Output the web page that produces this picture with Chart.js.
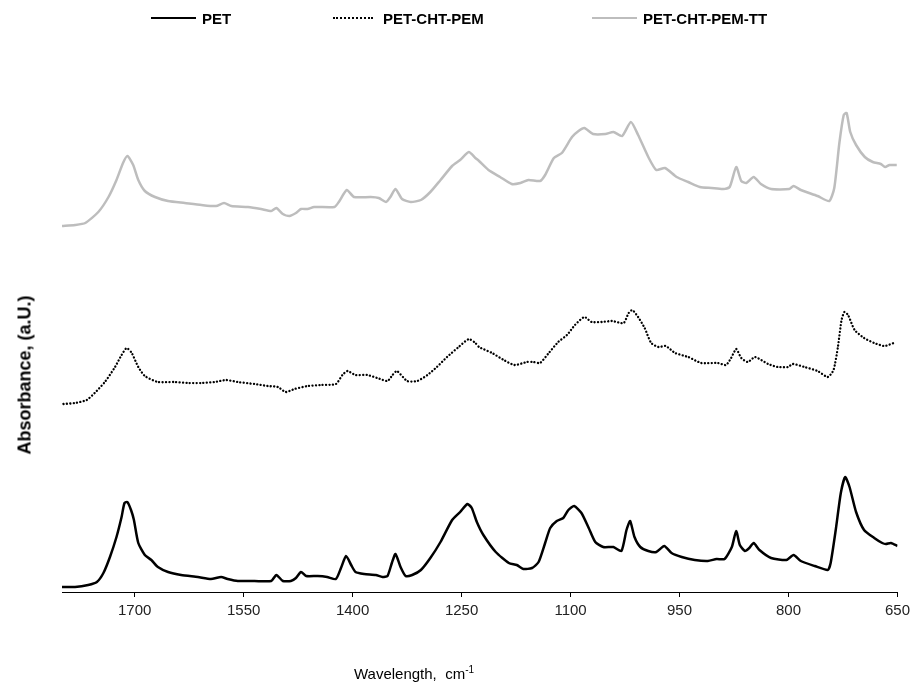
<!DOCTYPE html>
<html>
<head>
<meta charset="utf-8">
<script src="https://cdn.jsdelivr.net/npm/chart.js@4.4.1/dist/chart.umd.min.js"></script>
<style>
  html, body { margin: 0; padding: 0; background: #fff; }
  #wrap { position: relative; width: 915px; height: 688px; font-family: "Liberation Sans", Arial, sans-serif; }
  #spectra { position: absolute; left: 0; top: 0; }
  .legend-item { position: absolute; top: 9px; height: 18px; display: flex; align-items: center; font-weight: bold; font-size: 15px; color: #000; white-space: nowrap; }
  .legend-item .swatch { display: inline-block; width: 45px; margin-right: 6px; }
  .axis-title { position: absolute; color: #000; white-space: nowrap; font-size: 15px; }
  #y-title { left: 25px; top: 375px; font-weight: bold; font-size: 18px; transform: translate(-50%, -50%) rotate(-90deg); }
  #x-title { left: 414px; top: 673px; transform: translate(-50%, -50%); }
  #x-title sup { font-size: 10px; }
</style>
</head>
<body>
<div id="wrap">
  <canvas id="spectra" width="915" height="688"></canvas>
  <div class="legend-item" style="left:151px"><span class="swatch" style="border-top:2.5px solid #000"></span>PET</div>
  <div class="legend-item" style="left:333px"><span class="swatch" style="width:40px;margin-right:10px;border-top:2px dotted #000"></span>PET-CHT-PEM</div>
  <div class="legend-item" style="left:592px"><span class="swatch" style="border-top:2.5px solid #bdbdbd"></span>PET-CHT-PEM-TT</div>
  <div class="axis-title" id="y-title">Absorbance, (a.U.)</div>
  <div class="axis-title" id="x-title">Wavelength,&nbsp; cm<sup>-1</sup></div>
</div>
<script>
// FTIR spectra, curves stacked with an offset (arbitrary absorbance units)
const tickValues = [1700, 1550, 1400, 1250, 1100, 950, 800, 650];

const petWn = [1800,1782,1764,1752,1743,1734,1725,1718,1714,1710,1705,1701,1695,1686,1677,1668,1654,1636,1613,1595,
  1581,1572,1558,1535,1512,1505,1496,1485,1478,1471,1464,1448,1435,1423,1416,1409,1402,1396,1384,1368,
  1359,1352,1346,1341,1334,1327,1318,1306,1293,1279,1263,1252,1242,1236,1229,1220,1203,1185,1174,1165,
  1153,1144,1135,1128,1119,1110,1103,1095,1085,1075,1066,1055,1041,1030,1023,1018,1012,1004,993,982,
  971,961,947,929,911,899,888,878,872,867,860,854,848,840,824,803,793,783,764,746,
  742,735,728,722,716,707,696,682,671,666,659,650];
const petAbs = [0.05,0.05,0.07,0.10,0.19,0.35,0.55,0.75,0.89,0.90,0.82,0.72,0.49,0.37,0.32,0.25,0.20,0.17,0.15,0.13,
  0.15,0.13,0.11,0.11,0.11,0.17,0.11,0.11,0.14,0.20,0.16,0.16,0.15,0.13,0.24,0.36,0.27,0.20,0.18,0.17,
  0.15,0.16,0.29,0.38,0.25,0.16,0.17,0.22,0.34,0.50,0.72,0.80,0.88,0.84,0.70,0.57,0.40,0.29,0.27,0.23,
  0.24,0.30,0.49,0.64,0.71,0.74,0.82,0.86,0.79,0.64,0.50,0.45,0.45,0.41,0.62,0.71,0.55,0.45,0.41,0.40,
  0.46,0.39,0.35,0.32,0.31,0.33,0.33,0.45,0.61,0.47,0.41,0.44,0.49,0.42,0.34,0.32,0.37,0.31,0.26,0.22,
  0.29,0.62,0.99,1.15,1.05,0.80,0.62,0.54,0.49,0.48,0.49,0.46];

const pemWn = [1798,1782,1766,1755,1741,1727,1718,1711,1704,1695,1686,1668,1645,1627,1608,1590,1574,1558,1535,1517,
  1503,1492,1480,1462,1444,1423,1414,1407,1396,1380,1366,1352,1345,1339,1325,1311,1297,1284,1270,1254,
  1240,1231,1226,1208,1192,1177,1160,1151,1142,1130,1117,1105,1094,1081,1071,1057,1043,1027,1020,1015,
  1007,998,989,979,969,956,938,920,897,886,879,872,865,856,846,828,815,801,794,778,
  760,746,738,732,727,723,718,709,696,682,668,655];
const pemAbs = [1.88,1.89,1.92,1.99,2.10,2.25,2.37,2.44,2.39,2.25,2.16,2.10,2.10,2.09,2.09,2.10,2.12,2.10,2.08,2.06,
  2.05,2.00,2.03,2.06,2.07,2.08,2.17,2.21,2.17,2.17,2.14,2.11,2.17,2.21,2.11,2.11,2.17,2.25,2.35,2.45,
  2.53,2.49,2.45,2.39,2.32,2.27,2.30,2.30,2.29,2.39,2.50,2.57,2.67,2.75,2.70,2.70,2.71,2.69,2.79,2.82,
  2.75,2.64,2.49,2.45,2.46,2.39,2.35,2.29,2.29,2.27,2.34,2.43,2.34,2.30,2.35,2.28,2.25,2.25,2.28,2.25,
  2.21,2.15,2.22,2.45,2.72,2.80,2.77,2.62,2.54,2.49,2.46,2.49];

const ttWn = [1800,1782,1768,1750,1736,1725,1716,1710,1702,1695,1686,1672,1654,1631,1608,1588,1577,1567,1544,1526,
  1512,1505,1496,1487,1478,1471,1462,1453,1425,1419,1408,1398,1375,1364,1354,1348,1341,1332,1320,1306,
  1293,1279,1263,1252,1240,1231,1226,1213,1197,1181,1169,1158,1142,1135,1123,1112,1098,1089,1081,1069,
  1052,1041,1029,1017,1007,993,982,970,954,938,922,906,890,881,872,865,858,848,838,824,
  799,793,783,760,744,737,730,724,720,715,707,695,684,673,667,661,651];
const ttAbs = [3.66,3.67,3.69,3.80,3.95,4.12,4.29,4.36,4.27,4.12,4.01,3.95,3.91,3.89,3.87,3.86,3.89,3.86,3.85,3.83,
  3.81,3.84,3.78,3.76,3.79,3.83,3.83,3.85,3.85,3.90,4.02,3.95,3.95,3.94,3.90,3.95,4.03,3.93,3.90,3.92,
  4.00,4.12,4.26,4.32,4.40,4.34,4.31,4.22,4.15,4.08,4.09,4.12,4.11,4.17,4.34,4.39,4.55,4.61,4.64,4.58,
  4.58,4.60,4.56,4.70,4.57,4.35,4.22,4.24,4.15,4.10,4.05,4.04,4.03,4.05,4.25,4.11,4.09,4.15,4.08,4.03,
  4.03,4.06,4.02,3.96,3.91,4.04,4.49,4.77,4.79,4.60,4.47,4.35,4.30,4.28,4.25,4.27,4.27];

function toPoints(xs, ys) {
  return xs.map((x, i) => ({ x: x, y: ys[i] }));
}

const ctx = document.getElementById('spectra').getContext('2d');
const spectraChart = new Chart(ctx, {
  type: 'line',
  data: {
    datasets: [
      {
        label: 'PET',
        data: toPoints(petWn, petAbs),
        borderColor: '#000',
        borderWidth: 2.5,
        pointRadius: 0,
        tension: 0.2
      },
      {
        label: 'PET-CHT-PEM',
        data: toPoints(pemWn, pemAbs),
        borderColor: '#000',
        borderWidth: 2.3,
        borderDash: [0.1, 3.3],
        borderCapStyle: 'round',
        pointRadius: 0,
        tension: 0.2
      },
      {
        label: 'PET-CHT-PEM-TT',
        data: toPoints(ttWn, ttAbs),
        borderColor: '#bdbdbd',
        borderWidth: 2.5,
        pointRadius: 0,
        tension: 0.2
      }
    ]
  },
  options: {
    responsive: false,
    animation: false,
    devicePixelRatio: 1,
    layout: {
      padding: { left: 62, right: 15, top: 42, bottom: 0 }
    },
    scales: {
      x: {
        type: 'linear',
        min: 650,
        max: 1800,
        reverse: true,
        afterBuildTicks: function(scale) {
          scale.ticks = tickValues.map(v => ({ value: v }));
        },
        afterFit: function(scale) {
          scale.height = 96;
        },
        grid: {
          drawOnChartArea: false,
          drawTicks: true,
          tickLength: 5,
          tickColor: '#000',
          tickWidth: 1
        },
        border: { display: true, color: '#000', width: 1 },
        ticks: {
          autoSkip: false,
          maxRotation: 0,
          padding: 5,
          color: '#222',
          font: { family: '"Liberation Sans", Arial, sans-serif', size: 15 },
          callback: function(value) {
            return String(value);
          }
        }
      },
      y: {
        display: false,
        min: 0,
        max: 5.5
      }
    },
    plugins: {
      legend: { display: false },
      tooltip: { enabled: false }
    }
  }
});
</script>
</body>
</html>
